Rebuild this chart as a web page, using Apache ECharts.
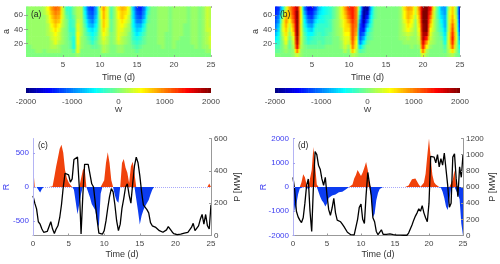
<!DOCTYPE html>
<html><head><meta charset="utf-8">
<style>html,body{margin:0;padding:0;background:#fff}#c{width:500px;height:264px;filter:blur(0.45px)}</style>
<script src="https://cdn.jsdelivr.net/npm/echarts@6/dist/echarts.min.js"></script>
</head><body><div id="c"></div>
<script>
// period levels (a) of the scalogram rows, top to bottom
const aLevels = [69,63,57,51,45,39,33,27,21,15,9,3];
// scalogram W, in hundreds, one column per half day (0 .. 25 d)
const heatA = [
[0,1,1,1,1,2,5,9,11,10, 3,-3,-3,0,2,2,-6,-12,-13,-8, 3,9,4,-2,1,6,8,7,3,-7, -13,-14,-10,-3,0,0,1,1,1,0, 1,1,1,1,0,1,1,0,1,3, 2],
[0,1,1,1,1,2,4,8,10,9, 3,-2,-3,0,2,2,-5,-11,-12,-8, 2,8,4,-2,1,5,7,6,3,-6, -12,-13,-9,-2,0,0,1,1,1,0, 1,1,1,1,0,1,1,0,1,3, 2],
[0,1,1,1,1,1,3,7,9,8, 3,-1,-3,-1,2,2,-4,-10,-11,-7, 2,8,4,-2,1,5,7,5,2,-6, -11,-12,-8,-1,0,0,1,1,1,0, 1,1,1,1,0,1,1,0,1,3, 2],
[0,1,1,1,1,1,3,6,8,7, 2,0,-3,-2,3,2,-3,-8,-10,-6, 1,7,4,-1,1,4,6,4,2,-5, -10,-10,-6,-1,0,0,1,1,1,0, 1,1,1,1,0,1,1,0,1,3, 2],
[0,1,1,1,1,1,2,5,7,5, 2,0,-3,-2,4,2,-2,-7,-8,-5, 1,7,4,-1,1,4,5,3,1,-5, -8,-8,-4,0,0,0,1,1,1,0, 1,1,1,0,0,1,1,0,1,3, 2],
[0,1,1,1,1,1,2,4,6,4, 1,0,-3,-3,4,2,-1,-5,-6,-4, 1,6,3,-1,1,4,4,2,1,-4, -7,-6,-3,0,0,0,1,1,1,0, 1,1,1,0,0,1,1,0,1,3, 3],
[0,1,1,1,1,1,2,3,5,3, 1,0,-2,-3,5,2,-1,-3,-5,-3, 1,5,3,0,1,4,3,2,0,-3, -6,-4,-2,0,0,0,1,1,0,0, 1,1,1,0,0,1,1,0,1,2, 3],
[0,1,1,1,1,1,1,3,4,3, 1,0,-2,-4,5,1,0,-2,-4,-2, 1,4,2,0,1,4,2,1,0,-3, -4,-3,-1,0,0,0,1,1,0,0, 1,1,0,0,0,1,1,0,1,2, 4],
[0,1,1,1,1,1,1,2,4,2, 1,0,-1,-4,5,1,0,-1,-3,-1, 1,3,2,0,1,3,2,1,0,-2, -3,-2,-1,0,0,0,1,1,0,0, 1,0,0,0,0,1,1,0,1,2, 3],
[0,0,1,1,1,1,1,2,2,1, 0,0,-1,-4,4,1,0,0,-1,-1, 0,2,1,0,0,1,1,0,0,-1, -2,-1,0,0,0,0,0,1,0,0, 1,0,0,0,0,0,1,0,1,1, 3],
[0,0,0,1,1,0,1,1,1,1, 0,0,0,-2,4,0,0,0,0,0, 0,2,1,0,0,1,1,0,0,0, -1,0,0,0,0,0,0,0,0,0, 0,0,0,0,0,0,0,0,0,1, 1],
[0,0,0,0,0,0,0,0,0,0, 0,0,0,0,1,0,0,0,0,0, 0,0,0,0,0,0,0,0,0,0, 0,0,0,0,0,0,0,0,0,0, 0,0,0,0,0,0,0,0,0,0, 0]
];
const heatB = [
[-14,-13,-6,3,9,13,18,5,-10,-16, -15,-12,-7,-5,-4,-3,-1,1,4,9, 13,14,10,-4,-18,-19,-7,-1,0,0, 0,0,0,0,1,6,9,8,3,10, 19,20,15,4,-2,-8,-9,2,7,1, -17],
[-14,-12,-2,6,8,13,20,5,-8,-14, -14,-10,-6,-5,-4,-3,-1,1,4,8, 12,14,10,-6,-19,-17,-6,-1,0,0, 0,0,0,0,1,5,8,7,3,9, 20,20,13,3,-2,-7,-9,3,7,1, -17],
[-13,-10,0,8,7,12,20,5,-6,-12, -13,-8,-5,-4,-3,-3,-1,1,4,7, 11,14,10,-8,-19,-14,-5,-1,0,0, 0,0,0,0,1,5,8,6,2,8, 20,20,11,3,-2,-6,-8,3,8,2, -16],
[-12,-9,2,9,5,11,20,5,-5,-10, -11,-6,-4,-4,-3,-2,0,1,3,6, 9,13,10,-10,-18,-11,-4,0,0,0, 0,0,0,0,1,4,7,5,1,7, 20,20,9,2,-1,-5,-8,3,9,3, -15],
[-11,-7,3,8,3,9,20,4,-4,-8, -9,-4,-3,-3,-3,-2,0,1,3,6, 7,12,10,-12,-16,-8,-3,0,0,0, 0,0,0,0,1,3,6,4,1,6, 19,20,7,2,-1,-4,-8,3,11,3, -14],
[-10,-6,3,7,2,8,20,4,-3,-6, -7,-3,-3,-3,-2,-2,0,1,2,6, 6,12,9,-13,-14,-5,-2,0,0,0, 0,0,0,0,1,3,5,3,1,5, 19,20,5,2,-1,-3,-7,3,12,3, -13],
[-8,-5,2,6,1,6,20,4,-2,-5, -5,-3,-2,-3,-2,-1,0,1,2,5, 5,12,8,-13,-11,-3,-1,0,0,0, 0,0,0,0,1,2,3,2,1,4, 18,18,4,1,0,-2,-6,4,13,4, -11],
[-6,-4,1,5,0,4,19,3,-1,-4, -3,-2,-2,-2,-1,-1,0,0,2,4, 4,12,6,-12,-8,-2,-1,0,0,0, 0,0,0,0,1,1,2,1,1,3, 18,14,3,1,0,-1,-5,4,14,4, -9],
[-4,-3,0,4,-1,3,18,3,-1,-3, -2,-2,-1,-2,-1,-1,0,0,1,4, 3,11,5,-10,-5,-1,0,0,0,0, 0,0,0,0,0,1,1,1,1,2, 16,9,2,1,0,0,-4,4,13,3, -7],
[-2,-2,0,2,-1,2,16,2,0,-1, -1,-1,-1,-1,0,0,0,0,1,3, 1,10,4,-6,-2,0,0,0,0,0, 0,0,0,0,0,0,0,1,0,1, 14,5,1,0,0,0,-2,3,11,2, -5],
[-1,-1,0,1,0,1,10,1,0,0, 0,0,0,0,0,0,0,0,0,2, 0,7,2,-2,-1,0,0,0,0,0, 0,0,0,0,0,0,0,0,0,0, 10,2,0,0,0,0,-1,2,6,1, -3],
[0,0,0,0,0,1,3,1,0,0, 0,0,0,0,0,0,0,0,0,0, 0,2,1,0,0,0,0,0,0,0, 0,0,0,0,0,0,0,0,0,0, 4,1,0,0,0,0,0,1,2,0, -1]
];
// quarter-day series (0 .. 25 d)
const rC = [320,0,0,-40,-80,-30,0,0,0,0, 0,10,150,300,430,560,620,500,250,130,
 70,30,0,-40,-220,-400,-420,-100,250,280, 0,0,-150,-250,-260,-340,-500,-590,-100,0,
 100,350,510,350,100,0,-120,-200,-230,0, 350,410,280,210,60,300,370,200,0,-350,
 -550,-420,-340,-280,-260,-190,-110,-40,0,0, 0,0,0,0,0,0,0,0,0,0,
 0,0,0,0,0,0,0,0,0,0, 0,0,0,0,0,0,0,0,0,50, 70];
const pC = [245,200,165,85,70,40,20,18,25,35, 85,40,12,40,60,110,190,300,385,390,
 375,330,350,470,480,485,300,10,250,440, 445,440,380,320,300,200,100,15,5,8,
 30,90,170,240,290,270,190,90,30,70, 170,230,300,320,250,200,320,430,485,450,
 370,270,190,190,160,140,80,60,65,50, 40,30,25,20,22,35,55,50,25,12,
 10,5,3,8,5,15,25,20,30,50, 75,30,20,60,100,130,70,130,60,40, 190];
const rD = [-300,-1000,-700,-300,-60,200,530,400,100,-100, 50,700,1650,900,100,-50,-400,-560,-650,-800,
 -680,-450,-400,-350,-370,-310,-250,-220,-210,-200, -180,-100,-30,0,0,100,350,500,700,680,
 450,600,800,1030,700,100,-400,-1250,-1100,-550, -250,-80,-20,0,0,0,0,0,0,0,
 0,0,0,0,0,0,0,0,60,200, 320,350,350,280,100,10,60,180,550,1300,
 2000,1200,500,200,100,40,0,-30,-200,-450, -800,-950,-500,-50,300,700,50,-300,-500,-1500, -2000];
const pD = [720,560,300,230,190,160,220,400,620,700, 300,50,600,1040,1000,870,820,700,620,720,
 500,320,250,340,460,280,190,180,170,140, 110,90,40,25,10,5,8,30,200,350,
 390,200,150,500,780,760,500,220,170,50, 10,30,70,15,10,15,12,20,10,12,
 8,5,5,4,3,3,3,3,30,80, 130,190,240,280,330,300,370,280,220,170,
 400,980,990,970,900,1000,850,950,870,1020, 1040,620,350,400,970,1010,700,480,850,720, 1000];
const barTicks = [-2000,-1000,0,1000,2000];

const jet = ['#00007f','#0000ff','#007fff','#00ffff','#7fff7f','#ffff00','#ff7f00','#ff0000','#7f0000'];
const FONT = '"Liberation Sans", Arial, sans-serif';
const GREY = '#444', AXGREY = '#999', BLUE = '#3c3cf0';
const RED_FILL = '#f0420c', BLUE_FILL = '#0c3cf0';
const COLS = 51;

const heatPoints = rows => {
  const out = [];
  rows.forEach((row, r) => row.forEach((v, c) => out.push([c * 0.5, aLevels[r], v * 100])));
  return out;
};
const barPoints = [];
for (let v = -2000; v <= 2000; v += 50) barPoints.push([v, 0.5, v]);
const quarter = (arr, f) => arr.map((v, i) => [i * 0.25, f ? f(v) : v]);
const plain = v => String(v);
const jetAt = v => echarts.color.lerp(Math.max(0, Math.min(1, (v + 2000) / 4000)), jet);

// heat cell: horizontal colour ramp towards the neighbouring cells of the same row
const heatCell = rows => (params, api) => {
  const x = api.value(0), y = api.value(1), v = api.value(2);
  const i = params.dataIndex, r = Math.floor(i / COLS), c = i % COLS;
  const row = rows[r];
  const left = (c > 0 ? row[c - 1] : row[c]) * 100, right = (c < COLS - 1 ? row[c + 1] : row[c]) * 100;
  const p0 = api.coord([x - 0.25, y + 3]), p1 = api.coord([x + 0.25, y - 3]);
  return { type: 'rect',
    shape: { x: p0[0] - 0.3, y: p0[1] - 0.3, width: p1[0] - p0[0] + 0.6, height: p1[1] - p0[1] + 0.6 },
    style: { fill: new echarts.graphic.LinearGradient(0, 0, 1, 0, [
      { offset: 0, color: jetAt((left + v) / 2) },
      { offset: 0.5, color: jetAt(v) },
      { offset: 1, color: jetAt((right + v) / 2) }]) } };
};
const barCell = (params, api) => {
  const x = api.value(0);
  const p0 = api.coord([x - 25, 1]), p1 = api.coord([x + 25, 0]);
  return { type: 'rect',
    shape: { x: p0[0] - 0.3, y: p0[1], width: p1[0] - p0[0] + 0.6, height: p1[1] - p0[1] },
    style: { fill: api.visual('color') } };
};

const grids = [
  { left: 26, top: 6, width: 185, height: 51 },
  { left: 275, top: 6, width: 185, height: 51 },
  { left: 26, top: 88, width: 185, height: 5 },
  { left: 275, top: 88, width: 185, height: 5 },
  { left: 33, top: 138.5, width: 178, height: 97 },
  { left: 293, top: 138.5, width: 170, height: 97 }
];
const tickLabel = { color: GREY, fontSize: 8, fontFamily: FONT, margin: 4, formatter: plain };
const nameStyle = { color: '#333', fontSize: 9, fontFamily: FONT };
const heatX = (g, extra) => Object.assign({
  type: 'value', gridIndex: g, min: 0, max: 25, z: 5, nameMoveOverlap: false,
  splitLine: { show: false }, axisLine: { show: false },
  axisTick: { inside: true, length: 2, lineStyle: { color: '#888', width: 0.7 }, customValues: [5,10,15,20,25] },
  axisLabel: Object.assign({}, tickLabel, { customValues: [5,10,15,20,25] }),
  name: 'Time (d)', nameLocation: 'middle', nameGap: 16, nameTextStyle: nameStyle
}, extra);
const heatXTop = g => heatX(g, { position: 'top', name: '', axisLabel: { show: false } });
const heatY = (g, extra) => Object.assign({
  type: 'value', gridIndex: g, min: 1, max: 73, z: 5, nameMoveOverlap: false,
  splitLine: { show: false }, axisLine: { show: false },
  axisTick: { inside: true, length: 2, lineStyle: { color: '#888', width: 0.7 }, customValues: [20,40,60] },
  axisLabel: Object.assign({}, tickLabel, { customValues: [20,40,60], margin: 3 }),
  name: 'a', nameLocation: 'middle', nameGap: 15, nameTextStyle: nameStyle
}, extra);
const heatYRight = g => heatY(g, { position: 'right', name: '', axisLabel: { show: false } });
const barX = g => ({
  type: 'value', gridIndex: g, min: -2000, max: 2000, interval: 1000, nameMoveOverlap: false,
  splitLine: { show: false }, axisLine: { show: false },
  axisTick: { show: false },
  axisLabel: Object.assign({}, tickLabel, { margin: 5, customValues: barTicks, hideOverlap: false }),
  name: 'W', nameLocation: 'middle', nameGap: 13, nameTextStyle: Object.assign({}, nameStyle, { fontSize: 8 })
});
const barY = g => ({ type: 'value', gridIndex: g, min: 0, max: 1, show: false });
const lineX = g => ({
  type: 'value', gridIndex: g, min: 0, max: 25, interval: 5, nameMoveOverlap: false,
  splitLine: { show: false },
  axisLine: { onZero: false, lineStyle: { color: AXGREY, width: 1 } },
  axisTick: { inside: true, length: 2, lineStyle: { color: AXGREY } },
  axisLabel: tickLabel,
  name: 'Time (d)', nameLocation: 'middle', nameGap: 15, nameTextStyle: nameStyle
});
const rAxis = (g, lim, ticks) => ({
  type: 'value', gridIndex: g, min: -lim, max: lim, position: 'left', z: 5, nameMoveOverlap: false,
  splitLine: { show: false },
  axisLine: { show: true, onZero: false, lineStyle: { color: '#b4b4f4', width: 1 } },
  axisTick: { inside: true, length: 2, lineStyle: { color: '#a0a0f0' }, customValues: ticks },
  axisLabel: Object.assign({}, tickLabel, { color: BLUE, customValues: ticks, margin: 4 }),
  name: 'R', nameLocation: 'middle', nameGap: g === 4 ? 22 : 25,
  nameTextStyle: Object.assign({}, nameStyle, { color: BLUE, fontSize: 9 })
});
const pAxis = (g, max) => ({
  type: 'value', gridIndex: g, min: 0, max: max, interval: 200, position: 'right', z: 5, nameMoveOverlap: false,
  splitLine: { show: false },
  axisLine: { show: true, onZero: false, lineStyle: { color: AXGREY, width: 1 } },
  axisTick: { show: true, inside: true, length: 2, lineStyle: { color: AXGREY } },
  axisLabel: Object.assign({}, tickLabel, { margin: 3 }),
  name: 'P [MW]', nameLocation: 'middle', nameGap: g === 4 ? 22 : 25, nameRotate: 90, nameTextStyle: nameStyle
});

const xAxis = [heatX(0), heatX(1), barX(2), barX(3), lineX(4), lineX(5), heatXTop(0), heatXTop(1)];
const yAxis = [heatY(0), heatY(1), barY(2), barY(3),
  rAxis(4, 710, [-500,0,500]), rAxis(5, 2000, [-2000,-1000,0,1000,2000]),
  pAxis(4, 600), pAxis(5, 1200), heatYRight(0), heatYRight(1)];

const custom = (name, xi, yi, data, fn) => ({
  name, type: 'custom', xAxisIndex: xi, yAxisIndex: yi, data, renderItem: fn, clip: true,
  encode: { x: 0, y: 1 }, silent: true, animation: false
});
const area = (name, xi, yi, data, color, zeroLine) => ({
  name, type: 'line', xAxisIndex: xi, yAxisIndex: yi, data, symbol: 'none', silent: true, animation: false,
  lineStyle: { width: 0 }, areaStyle: { color, opacity: 1 }, itemStyle: { color }, z: 2,
  markLine: zeroLine ? { silent: true, symbol: 'none', z: 1, label: { show: false }, animation: false,
    lineStyle: { color: '#a8a8fa', type: 'dotted', width: 1 }, data: [{ yAxis: 0 }] } : undefined
});
const power = (name, xi, yi, data) => ({
  name, type: 'line', xAxisIndex: xi, yAxisIndex: yi, data, symbol: 'none', silent: true, animation: false,
  lineStyle: { color: '#000', width: 1.3 }, itemStyle: { color: '#000' }, z: 4
});

const series = [
  custom('W (a)', 0, 0, heatPoints(heatA), heatCell(heatA)),
  custom('W (b)', 1, 1, heatPoints(heatB), heatCell(heatB)),
  custom('colorbar (a)', 2, 2, barPoints, barCell),
  custom('colorbar (b)', 3, 3, barPoints, barCell),
  area('R+ (c)', 4, 4, quarter(rC, v => Math.max(v, 0)), RED_FILL, true),
  area('R- (c)', 4, 4, quarter(rC, v => Math.min(v, 0)), BLUE_FILL),
  power('P (c)', 4, 6, quarter(pC)),
  area('R+ (d)', 5, 5, quarter(rD, v => Math.max(v, 0)), RED_FILL, true),
  area('R- (d)', 5, 5, quarter(rD, v => Math.min(v, 0)), BLUE_FILL),
  power('P (d)', 5, 7, quarter(pD))
];

const panelTag = (t, x, y) => ({ type: 'text', x, y, z: 50,
  style: { text: t, fill: '#222', fontSize: 8.5, fontFamily: FONT } });

const chart = echarts.init(document.getElementById('c'), null, { renderer: 'canvas' });
chart.setOption({
  animation: false,
  backgroundColor: '#fff',
  grid: grids,
  xAxis, yAxis, series,
  visualMap: { type: 'continuous', show: false, min: -2000, max: 2000, dimension: 2,
    seriesIndex: [2,3], inRange: { color: jet } },
  graphic: [panelTag('(a)', 31, 10), panelTag('(b)', 280, 10), panelTag('(c)', 38, 141), panelTag('(d)', 298, 141)]
});
</script></body></html>
